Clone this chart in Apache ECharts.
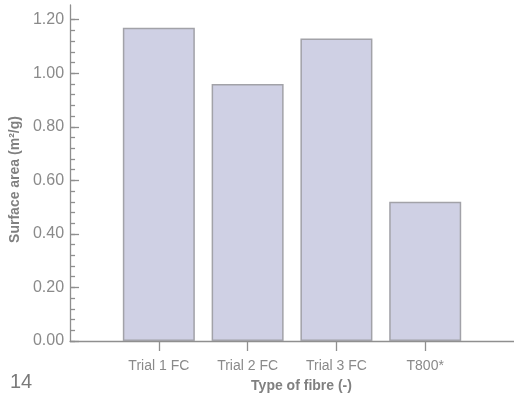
<!DOCTYPE html>
<html><head><meta charset="utf-8">
<script src="https://cdn.jsdelivr.net/npm/echarts@6/dist/echarts.min.js"></script>
<style>html,body{margin:0;padding:0;background:#fff}#c{width:514px;height:398px}</style>
</head><body><div id="c"></div>
<script>
const categories = ['', 'Trial 1 FC', 'Trial 2 FC', 'Trial 3 FC', 'T800*', ''];
const surfaceArea = [null, 1.17, 0.96, 1.13, 0.52, null];
const majorTicks = [0, 0.2, 0.4, 0.6, 0.8, 1.0, 1.2];
const minorTicks = [];
for (let i = 0; i <= 30; i++) minorTicks.push(+(i * 0.04).toFixed(2));

const axisGrey = '#8f8f8f';
const textGrey = '#8a8a8a';
const font = '"Liberation Sans", Arial, sans-serif';

const chart = echarts.init(document.getElementById('c'), null, {renderer: 'canvas'});
chart.setOption({
  animation: false,
  grid: {left: 67.5, right: -3.5, top: 5, bottom: 56, containLabel: false},
  xAxis: {
    type: 'category', data: categories, boundaryGap: false,
    axisLine: {lineStyle: {color: axisGrey, width: 1.3}},
    axisTick: {show: true, length: 10, lineStyle: {color: axisGrey, width: 1.3},
      interval: (i, v) => v !== ''},
    axisLabel: {color: textGrey, fontSize: 14, fontFamily: font, margin: 18,
      interval: (i, v) => v !== ''},
    name: 'Type of fibre (-)', nameLocation: 'middle', nameGap: 38,
    nameTextStyle: {color: '#808080', fontSize: 14, fontWeight: 'bold', fontFamily: font, padding: [0, 0, 0, 19]},
    splitLine: {show: false}
  },
  yAxis: [{
    type: 'value', min: 0, max: 1.255,
    axisLine: {show: true, lineStyle: {color: axisGrey, width: 1.3}},
    axisTick: {show: true, inside: true, length: 9, customValues: majorTicks, lineStyle: {color: axisGrey, width: 1.3}},
    axisLabel: {color: textGrey, fontSize: 16, fontFamily: font, margin: 6, customValues: majorTicks,
      formatter: v => v.toFixed(2)},
    splitLine: {show: false},
    name: 'Surface area (m²/g)', nameLocation: 'middle', nameGap: 45,
    nameTextStyle: {color: '#808080', fontSize: 14, fontWeight: 'bold', fontFamily: font, padding: [0, 13, 0, 0]}
  }, {
    type: 'value', min: 0, max: 1.255, position: 'left',
    axisLine: {show: false},
    axisTick: {show: true, inside: true, length: 5, customValues: minorTicks, lineStyle: {color: axisGrey, width: 1.3}},
    axisLabel: {show: false},
    splitLine: {show: false}
  }],
  series: [{
    type: 'bar', data: surfaceArea, barWidth: 72, yAxisIndex: 0,
    itemStyle: {color: '#cfd0e4', borderColor: '#a2a2a8', borderWidth: 1.5}
  }],
  graphic: [{
    type: 'text', left: 10, top: 372,
    style: {text: '14', fontSize: 20, fill: '#7a7a7a', fontFamily: font}
  }]
});
</script>
</body></html>
